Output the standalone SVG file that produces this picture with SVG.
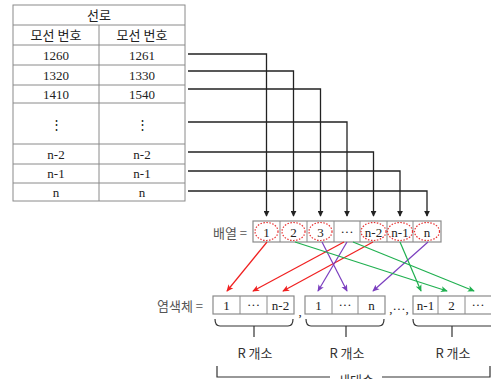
<svg xmlns="http://www.w3.org/2000/svg" width="491" height="379" viewBox="0 0 491 379">
<style>
.tl{stroke:#8a8a8a;stroke-width:1;fill:none}
.tt{font-family:"Liberation Serif","Noto Sans CJK KR",serif;font-size:13px;fill:#222;text-anchor:middle;dominant-baseline:central}
.kt{font-family:"Noto Sans CJK KR","Liberation Sans",sans-serif;font-size:13px;fill:#333;text-anchor:middle;dominant-baseline:central}
.conn{stroke:#222;stroke-width:1.3;fill:none}
.box{fill:#fff;stroke:#8a8a8a;stroke-width:1.2}
.ell{fill:none;stroke:#e83030;stroke-width:1.2;stroke-dasharray:1.5 1.5}
.red{stroke:#f02020;stroke-width:1.2;fill:none}
.pur{stroke:#7b3fbf;stroke-width:1.2;fill:none}
.grn{stroke:#20b050;stroke-width:1.2;fill:none}
.br{stroke:#333;stroke-width:1.2;fill:none}
</style>
<defs>
<marker id="ab" viewBox="0 0 8 8" refX="7" refY="4" markerWidth="6" markerHeight="6" orient="auto" markerUnits="userSpaceOnUse"><path d="M0,0 L8,4 L0,8 Z" fill="#222"/></marker>
<marker id="ar" viewBox="0 0 8 8" refX="7" refY="4" markerWidth="7" markerHeight="7" orient="auto" markerUnits="userSpaceOnUse"><path d="M0,0.5 L8,4 L0,7.5 L2,4 Z" fill="#f02020"/></marker>
<marker id="ap" viewBox="0 0 8 8" refX="7" refY="4" markerWidth="7" markerHeight="7" orient="auto" markerUnits="userSpaceOnUse"><path d="M0,0.5 L8,4 L0,7.5 L2,4 Z" fill="#7b3fbf"/></marker>
<marker id="ag" viewBox="0 0 8 8" refX="7" refY="4" markerWidth="7" markerHeight="7" orient="auto" markerUnits="userSpaceOnUse"><path d="M0,0.5 L8,4 L0,7.5 L2,4 Z" fill="#20b050"/></marker>
</defs>
<rect width="491" height="379" fill="#fff"/>

<g id="table">
<rect class="tl" x="13" y="5" width="172" height="196"/>
<path class="tl" d="M13,25H185M13,45H185M13,65H185M13,85H185M13,103H185M13,144H185M13,164H185M13,183H185M99,25V201"/>
<text class="tt" x="99" y="15">선로</text>
<text class="tt" x="56" y="35">모선 번호</text>
<text class="tt" x="142" y="35">모선 번호</text>
<text class="tt" x="56" y="55">1260</text><text class="tt" x="142" y="55">1261</text>
<text class="tt" x="56" y="75">1320</text><text class="tt" x="142" y="75">1330</text>
<text class="tt" x="56" y="94">1410</text><text class="tt" x="142" y="94">1540</text>
<text class="tt" x="56" y="124">⋮</text><text class="tt" x="142" y="124">⋮</text>
<text class="tt" x="56" y="154">n-2</text><text class="tt" x="142" y="154">n-2</text>
<text class="tt" x="56" y="173">n-1</text><text class="tt" x="142" y="173">n-1</text>
<text class="tt" x="56" y="192">n</text><text class="tt" x="142" y="192">n</text>
</g>

<g id="array">
<text class="kt" x="230" y="232" style="fill:#555">배열 =</text>
<rect class="box" x="253" y="221" width="188" height="21"/>
<path class="tl" d="M280,221V242M307,221V242M334,221V242M360,221V242M387,221V242M413,221V242"/>
<text class="tt" x="266.5" y="232">1</text>
<text class="tt" x="293.5" y="232">2</text>
<text class="tt" x="320.5" y="232">3</text>
<text class="tt" x="347" y="231">···</text>
<text class="tt" x="373.5" y="232">n-2</text>
<text class="tt" x="400" y="232">n-1</text>
<text class="tt" x="427" y="232">n</text>
<ellipse class="ell" cx="266.5" cy="231.5" rx="11.5" ry="9"/>
<ellipse class="ell" cx="293.5" cy="231.5" rx="11.5" ry="9"/>
<ellipse class="ell" cx="320.5" cy="231.5" rx="11.5" ry="9"/>
<ellipse class="ell" cx="373.5" cy="231.5" rx="12.5" ry="9"/>
<ellipse class="ell" cx="400" cy="231.5" rx="12.5" ry="9"/>
<ellipse class="ell" cx="427" cy="231.5" rx="12.5" ry="9"/>
</g>

<g id="chromosome">
<text class="kt" x="180" y="305" style="fill:#555">염색체 =</text>
<rect class="box" x="213" y="296" width="81" height="18"/>
<path class="tl" d="M240,296V314M267,296V314"/>
<text class="tt" x="226.5" y="305">1</text><text class="tt" x="253.5" y="304">···</text><text class="tt" x="280.5" y="305">n-2</text>
<text class="tt" x="300" y="311">,</text>
<rect class="box" x="305" y="296" width="80" height="18"/>
<path class="tl" d="M332,296V314M358,296V314"/>
<text class="tt" x="318.5" y="305">1</text><text class="tt" x="345" y="304">···</text><text class="tt" x="371.5" y="305">n</text>
<text class="tt" x="399" y="308">,···,</text>
<rect class="box" x="413" y="296" width="80" height="18"/>
<path class="tl" d="M438,296V314M465,296V314"/>
<text class="tt" x="425.5" y="305">n-1</text><text class="tt" x="451.5" y="305">2</text><text class="tt" x="478" y="304">···</text>
</g>

<g id="connectors">
<path class="conn" marker-end="url(#ab)" d="M188,54H266.5V216"/>
<path class="conn" marker-end="url(#ab)" d="M188,71H293.5V216"/>
<path class="conn" marker-end="url(#ab)" d="M188,89H320.5V216"/>
<path class="conn" marker-end="url(#ab)" d="M188,122H347V216"/>
<path class="conn" marker-end="url(#ab)" d="M188,152H373.5V216"/>
<path class="conn" marker-end="url(#ab)" d="M188,171H400V216"/>
<path class="conn" marker-end="url(#ab)" d="M188,191H427V216"/>
<line class="red" marker-end="url(#ar)" x1="267" y1="242" x2="227" y2="291"/>
<line class="red" marker-end="url(#ar)" x1="344" y1="242" x2="253" y2="291"/>
<line class="red" marker-end="url(#ar)" x1="373" y1="242" x2="283" y2="291"/>
<line class="pur" marker-end="url(#ap)" x1="322" y1="242" x2="347" y2="291"/>
<line class="pur" marker-end="url(#ap)" x1="347" y1="242" x2="318" y2="291"/>
<line class="pur" marker-end="url(#ap)" x1="428" y1="242" x2="373" y2="291"/>
<line class="grn" marker-end="url(#ag)" x1="295" y1="242" x2="447" y2="291"/>
<line class="grn" marker-end="url(#ag)" x1="353" y1="242" x2="474" y2="291"/>
<line class="grn" marker-end="url(#ag)" x1="400" y1="242" x2="421" y2="291"/>
</g>

<g id="braces">
<path class="br" d="M215,319Q215,326 220,326H288Q293,326 293,319M254,326V337"/>
<path class="br" d="M306,319Q306,326 311,326H379Q384,326 384,319M346,326V337"/>
<path class="br" d="M413,319Q413,326 418,326H495M452,326V337"/>
<text class="kt" x="255" y="352">R 개소</text>
<text class="kt" x="347" y="352">R 개소</text>
<text class="kt" x="453" y="352">R 개소</text>
<path class="br" d="M217,366V377H330M382,377H490V366"/>
<text class="kt" x="356" y="385" style="dominant-baseline:auto;font-size:13px">세대수</text>
</g>
</svg>
